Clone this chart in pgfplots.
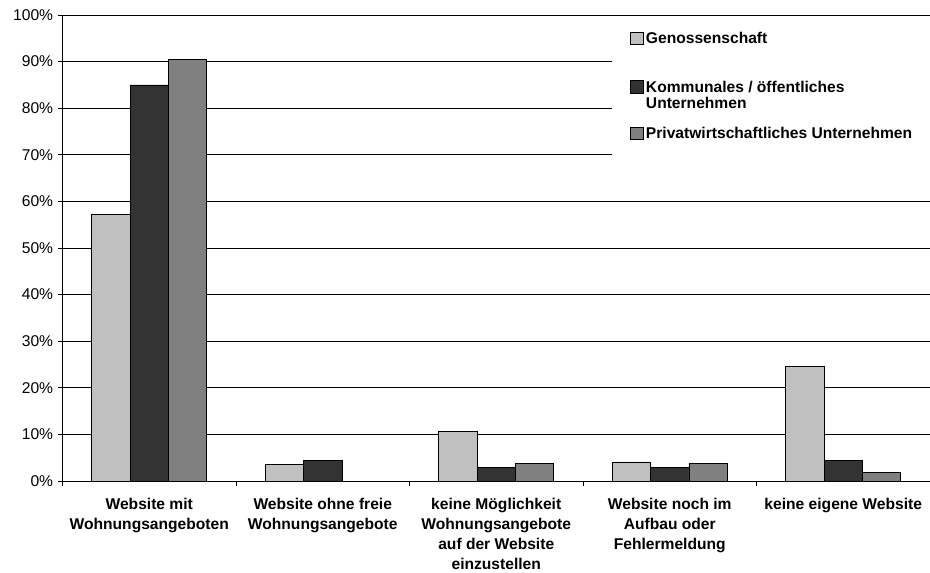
\documentclass[border=0pt]{standalone}
\usepackage{pgfplots}
\pgfplotsset{compat=1.18}
\usepackage{fontspec}
\setmainfont{Liberation Sans}

\definecolor{genoss}{HTML}{C0C0C0}
\definecolor{kommunal}{HTML}{333333}
\definecolor{privat}{HTML}{808080}

\begin{document}
\begin{tikzpicture}
  % 1px of the reference = 0.75pt
  \useasboundingbox (-46.875pt,-68.25pt) rectangle (650.6pt,360.75pt);
  \begin{axis}[
      at={(0,0)}, anchor=south west,
      scale only axis,
      width=650.6pt, height=349.5pt,
      ybar=0pt,
      bar width=0.221,
      xmin=-0.5, xmax=4.5,
      ymin=0, ymax=100,
      axis x line*=bottom,
      axis y line*=left,
      axis line style={-, line width=0.7pt},
      xtick={-0.5,0.5,1.5,2.5,3.5,4.5},
      x tick label as interval,
      xticklabels={
        {Website mit\\Wohnungsangeboten},
        {Website ohne freie\\Wohnungsangebote},
        {keine Möglichkeit\\Wohnungsangebote\\auf der Website\\einzustellen},
        {Website noch im\\Aufbau oder\\Fehlermeldung},
        {keine eigene Website}},
      ytick={0,10,...,100},
      yticklabels={0\%,10\%,20\%,30\%,40\%,50\%,60\%,70\%,80\%,90\%,100\%},
      tick align=outside,
      major tick length=3.5pt,
      tick style={black, line width=0.7pt},
      ymajorgrids,
      major grid style={black, line width=0.6pt},
      tick label style={font=\fontsize{11.7}{15}\selectfont},
      xticklabel style={align=center, yshift=-6pt,
        font=\fontsize{11.7}{15}\selectfont\bfseries},
      legend image code/.code={
        \draw[#1,draw=black,line width=0.6pt] (0pt,-0.55pt) rectangle (9.5pt,8.95pt);},
      legend cell align=left,
      legend style={
        at={(0.6334,0.9936)}, anchor=north west,
        draw=none, fill=white,
        inner xsep=13.5pt, inner ysep=10pt,
        font=\fontsize{11.7}{12.5}\selectfont\bfseries,
        cells={anchor=base west},
        nodes={inner sep=0pt, text depth=},
      },
    ]
    \addplot[fill=genoss, draw=black, line width=0.6pt]
      coordinates {(0,57.2) (1,3.6) (2,10.7) (3,4.1) (4,24.5)};
    \addplot[fill=kommunal, draw=black, line width=0.6pt]
      coordinates {(0,85.0) (1,4.5) (2,3.0) (3,3.0) (4,4.5)};
    \addplot[fill=privat, draw=black, line width=0.6pt]
      coordinates {(0,90.5) (2,3.8) (3,3.8) (4,1.9)};
    \legend{\hspace*{1.7pt}Genossenschaft\rule[-27pt]{0pt}{0pt},
      {\hspace*{1.7pt}\parbox[t]{160pt}{\raggedright Kommunales / öffentliches\\Unternehmen\rule[-13.25pt]{0pt}{0pt}}},
      \hspace*{1.7pt}Privatwirtschaftliches Unternehmen\rule[-10pt]{0pt}{0pt}}
  \end{axis}
\end{tikzpicture}
\end{document}
